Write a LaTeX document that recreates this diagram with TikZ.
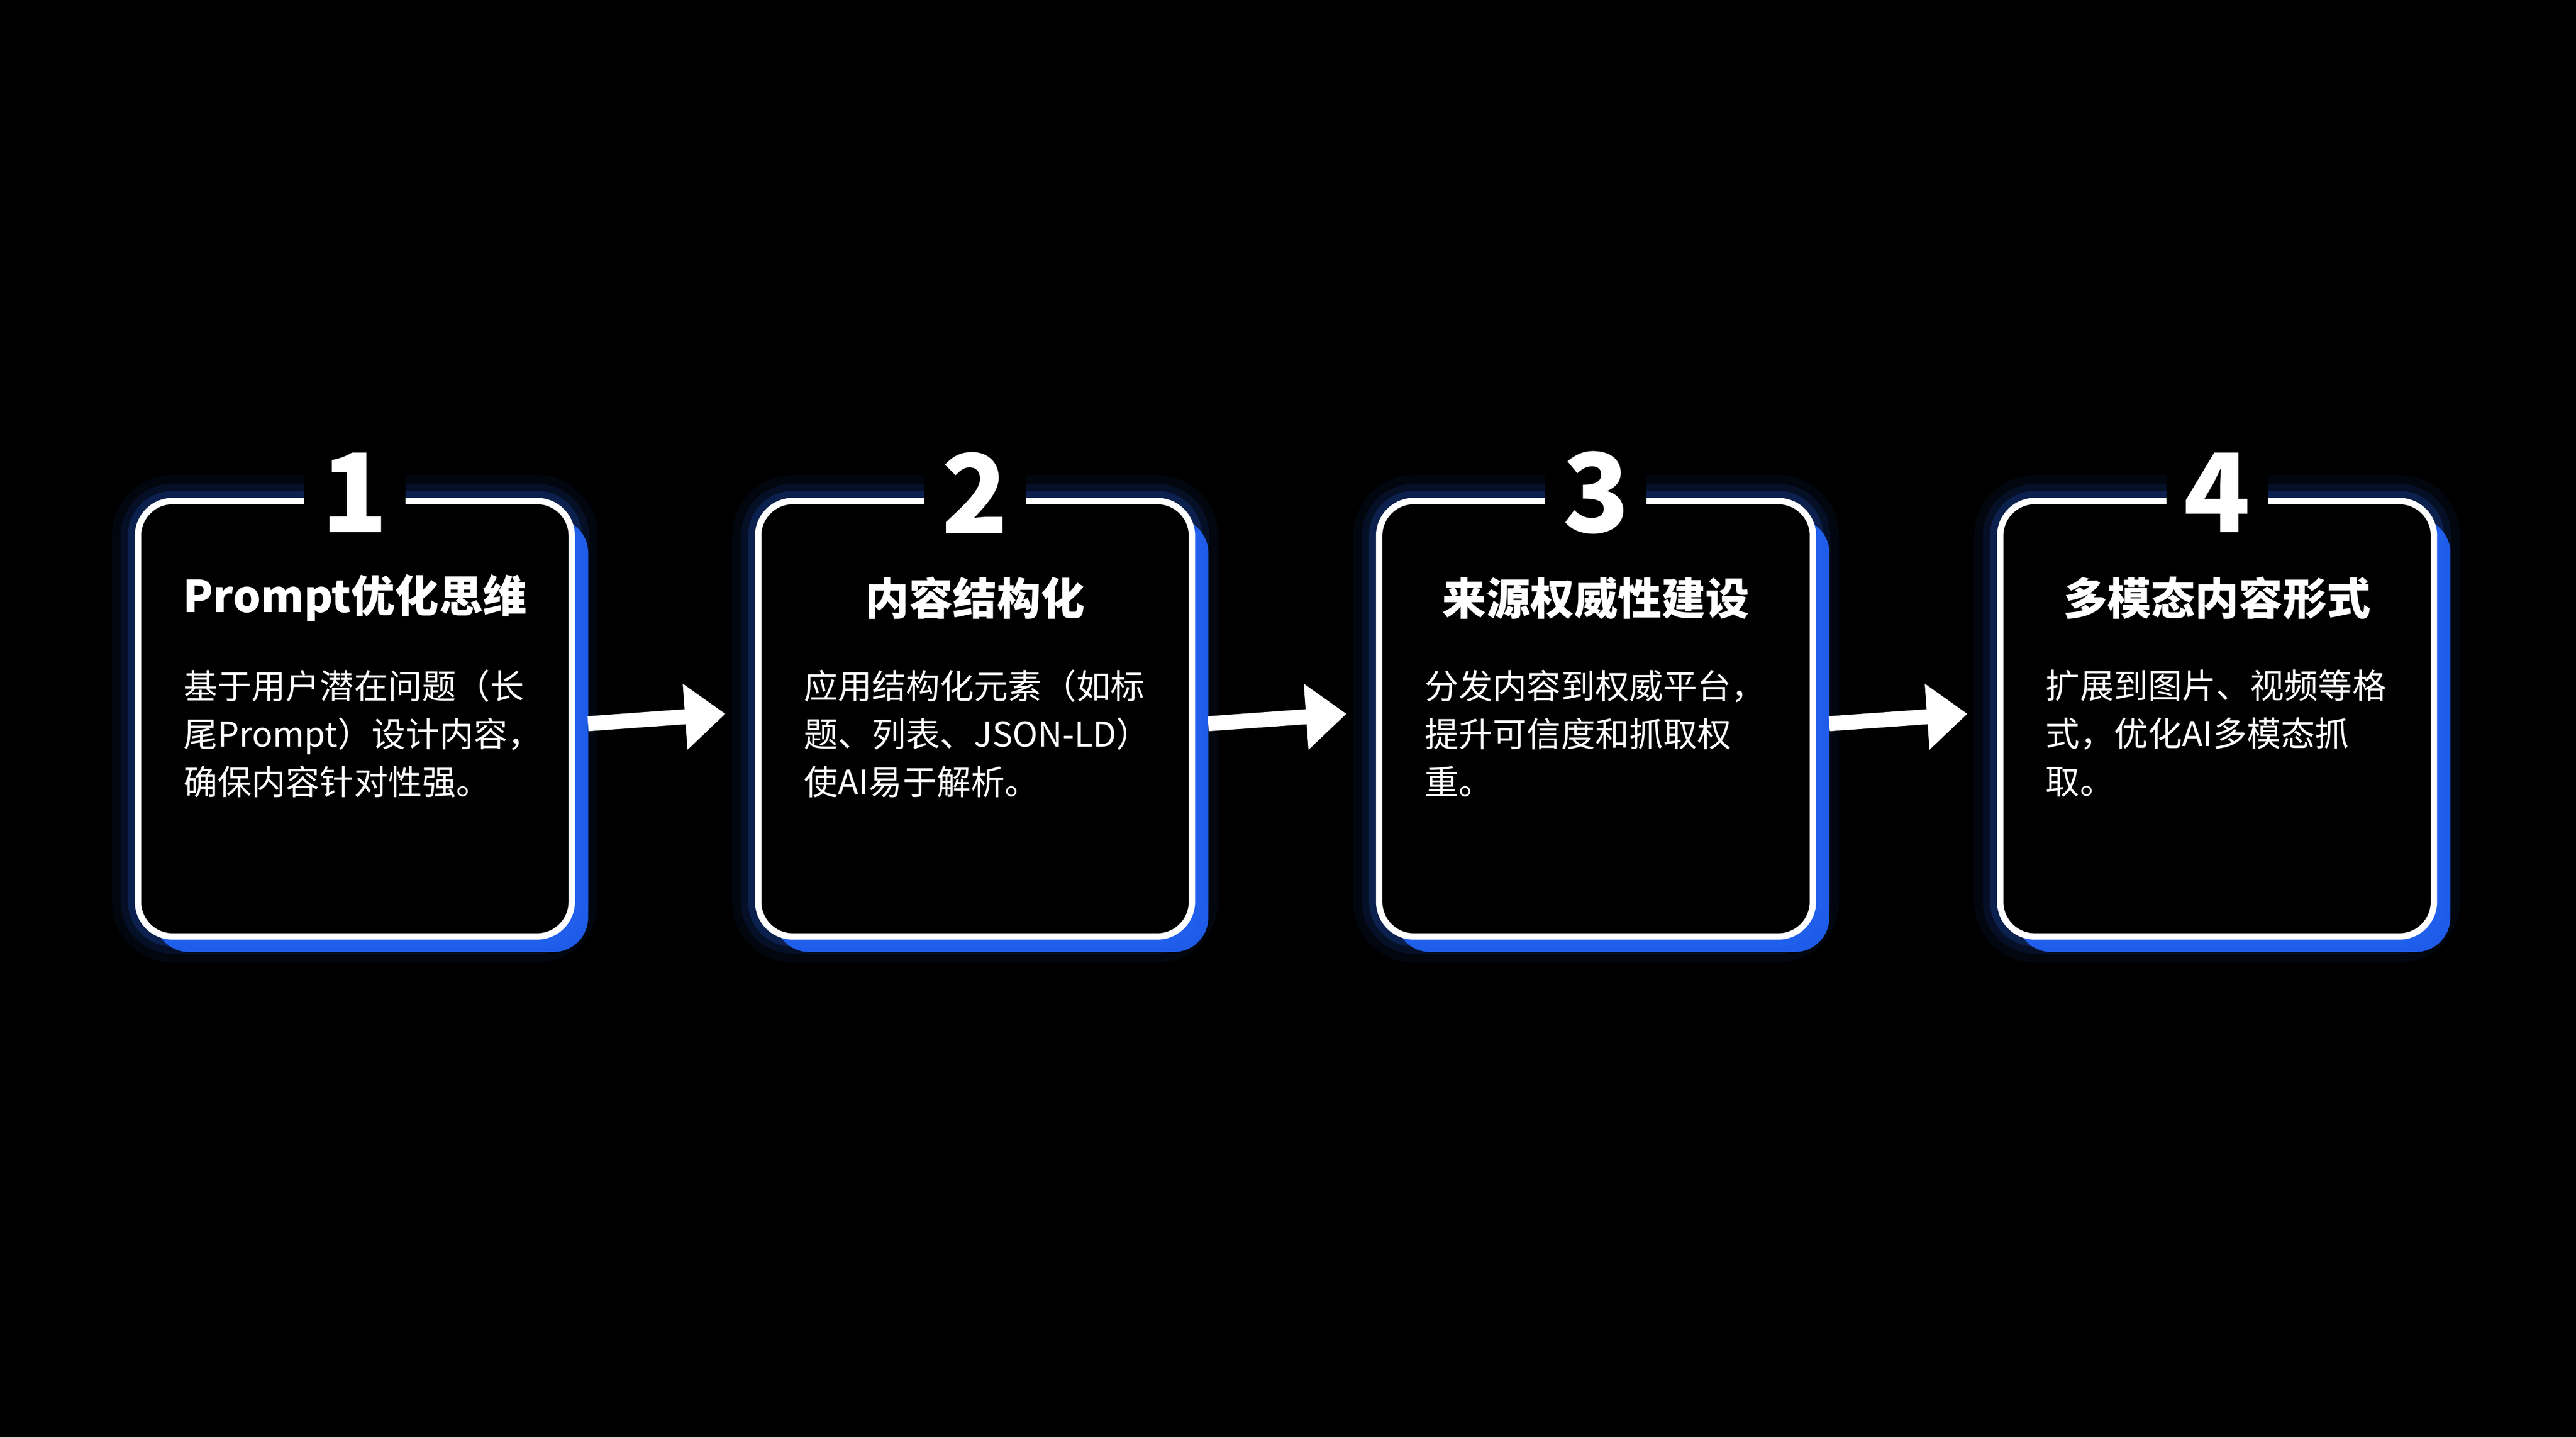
\documentclass[tikz,border=0pt]{standalone}
\usepackage{fontspec}
\setmainfont{Noto Sans CJK SC}
\usetikzlibrary{arrows.meta}
\definecolor{glowblue}{RGB}{40,110,255}
\definecolor{shadeblue}{RGB}{30,90,230}
\tikzset{
  stepcard/.style={draw=white,line width=1.1pt,rounded corners=6pt,
    minimum width=2.64cm,minimum height=2.65cm,inner sep=0pt},
  stepnum/.style={fill=black,text=white,font=\fontsize{19}{19}\selectfont\bfseries,inner xsep=3pt,inner ysep=0pt},
  steptitle/.style={text=white,font=\fontsize{7.6}{9}\selectfont\bfseries},
  stepbody/.style={text=white,align=left,anchor=north west,inner sep=0pt,
    font=\fontsize{5.9}{8.3}\selectfont},
  flowarrow/.style={draw=white,line width=2.6pt,-{Triangle[length=7pt,width=11pt]}}
}
\begin{document}
\begin{tikzpicture}
\fill[black] (0,0) rectangle (15.68,8.75);
\useasboundingbox (0,0) rectangle (15.68,8.75);
% cards
\foreach \i/\x in {1/2.16,2/5.935,3/9.715,4/13.495}{
  \fill[shadeblue,rounded corners=6pt] (\x-1.22,4.375-1.42) rectangle (\x+1.42,4.375+1.22);
  \foreach \w/\o in {9/0.06,6/0.1,3.5/0.18}
    \draw[glowblue,line width=\w pt,opacity=\o,rounded corners=6pt] (\x-1.32,4.375-1.325) rectangle (\x+1.32,4.375+1.325);
  \node[stepcard,fill=black] (card\i) at (\x,4.375) {};
  \node[stepnum] (num\i) at (\x,5.75) {\i};
}
\node[steptitle] (title1) at (2.16,5.11) {Prompt优化思维};
\node[steptitle] (title2) at (5.935,5.11) {内容结构化};
\node[steptitle] (title3) at (9.715,5.11) {来源权威性建设};
\node[steptitle] (title4) at (13.495,5.11) {多模态内容形式};
\node[stepbody] (body1) at ([xshift=0.29cm]card1.west |- 0,4.68) {基于用户潜在问题（长\\尾Prompt）设计内容，\\确保内容针对性强。};
\node[stepbody] (body2) at ([xshift=0.29cm]card2.west |- 0,4.68) {应用结构化元素（如标\\题、列表、JSON-LD）\\使AI易于解析。};
\node[stepbody] (body3) at ([xshift=0.29cm]card3.west |- 0,4.68) {分发内容到权威平台，\\提升可信度和抓取权\\重。};
\node[stepbody] (body4) at ([xshift=0.29cm]card4.west |- 0,4.68) {扩展到图片、视频等格\\式，优化AI多模态抓\\取。};
% arrows
\foreach \a/\b in {1/2,2/3,3/4}
  \draw[flowarrow] ([xshift=0.08cm,yshift=-0.03cm]card\a.east) -- ([xshift=-0.18cm,yshift=0.03cm]card\b.west);
\end{tikzpicture}
\end{document}
